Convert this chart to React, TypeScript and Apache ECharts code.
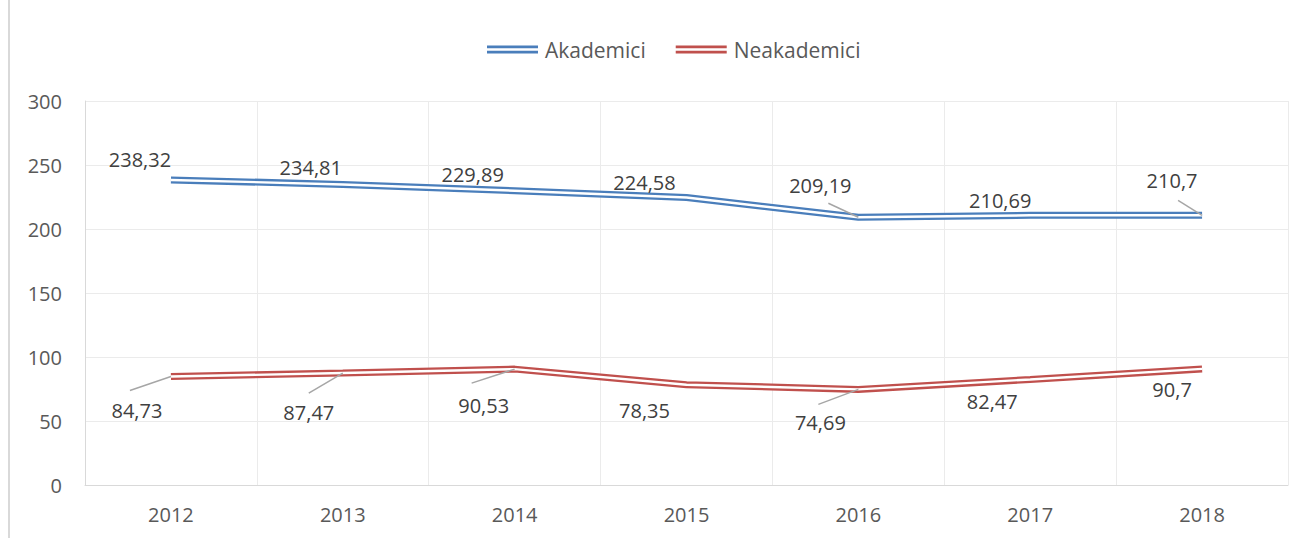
import React, { useEffect, useRef } from "react";
import * as echarts from "echarts";

const years = ["2012", "2013", "2014", "2015", "2016", "2017", "2018"];
const akademici = [238.32, 234.81, 229.89, 224.58, 209.19, 210.69, 210.7];
const neakademici = [84.73, 87.47, 90.53, 78.35, 74.69, 82.47, 90.7];

// label offsets (style) relative to each point
const akOffsets = [[-31, -20], [-32, -17], [-42, -16], [-42, -15], [-38, -32], [-30, -15], [-30, -35]];
const neOffsets = [[-34, 34], [-34, 39], [-31, 36], [-42, 26], [-38, 33], [-38, 22], [-30, 21]];
// leader line far-end offsets (style), null = no leader
const akLeaders: (number[] | null)[] = [null, null, null, null, [-30, -14], null, [-24, -15]];
const neLeaders: (number[] | null)[] = [[-41, 14], [-34, 20], [-43, 14], null, [-40, 15], null, null];

const fmt = (v: number) => String(v).replace(".", ",");
const FONT = "'Open Sans', sans-serif";

function mainSeries(name: string, values: number[], color: string, offsets: number[][]) {
  return {
    name,
    type: "line",
    data: values,
    symbol: "circle",
    symbolSize: 0,
    showSymbol: true,
    itemStyle: { color },
    lineStyle: { color, width: 7 },
    z: 2,
    label: {
      show: true,
      position: "inside",
      formatter: (p: any) => fmt(p.value),
      color: "#404040",
      fontSize: 20,
      fontFamily: FONT,
    },
    labelLayout: (p: any) => ({ dx: offsets[p.dataIndex][0], dy: offsets[p.dataIndex][1] }),
  };
}

function whiteSeries(name: string, values: number[]) {
  return {
    name,
    type: "line",
    data: values,
    symbol: "none",
    silent: true,
    lineStyle: { color: "#ffffff", width: 2.4 },
    itemStyle: { color: "#ffffff" },
    z: 3,
  };
}

export default function App() {
  const ref = useRef<HTMLDivElement>(null);
  useEffect(() => {
    const chart = echarts.init(ref.current!, null, { renderer: "svg" });
    const icon = "path://M0,0H50V2.6H0Z M0,5H50V7.6H0Z";
    chart.setOption({
      animation: false,
      backgroundColor: "#ffffff",
      legend: {
        data: [
          { name: "Akademici", icon, itemStyle: { color: "#4a7ebb", opacity: 1 } },
          { name: "Neakademici", icon, itemStyle: { color: "#c0504d", opacity: 1 } },
        ],
        top: 34,
        left: 482,
        itemWidth: 51,
        itemHeight: 8,
        itemGap: 30,
        textStyle: { color: "#595959", fontSize: 21, fontFamily: FONT, padding: [0, 0, 0, 2] },
      },
      grid: { left: 85, right: 20, top: 101, bottom: 53 },
      xAxis: {
        type: "category",
        data: years,
        boundaryGap: true,
        axisLine: { lineStyle: { color: "#d9d9d9" } },
        axisTick: { show: false },
        splitLine: { show: true, lineStyle: { color: "#ebebeb" } },
        axisLabel: { color: "#595959", fontSize: 20, fontFamily: FONT, margin: 19 },
      },
      yAxis: {
        type: "value",
        min: 0,
        max: 300,
        interval: 50,
        axisLine: { show: true, lineStyle: { color: "#d9d9d9" } },
        splitLine: { lineStyle: { color: "#ebebeb" } },
        axisLabel: { color: "#595959", fontSize: 20, fontFamily: FONT, margin: 23 },
      },
      series: [
        mainSeries("Akademici", akademici, "#4a7ebb", akOffsets),
        whiteSeries("Akademici-w", akademici),
        mainSeries("Neakademici", neakademici, "#c0504d", neOffsets),
        whiteSeries("Neakademici-w", neakademici),
      ],
    });

    const leaderLines: any[] = [];
    const addLeaders = (values: number[], leaders: (number[] | null)[]) => {
      values.forEach((v, i) => {
        const l = leaders[i];
        if (!l) return;
        const p = chart.convertToPixel({ xAxisIndex: 0, yAxisIndex: 0 }, [i, v]) as number[];
        leaderLines.push({
          type: "line",
          z: 10,
          shape: { x1: p[0], y1: p[1], x2: p[0] + l[0], y2: p[1] + l[1] },
          style: { stroke: "#a6a6a6", lineWidth: 1.5 },
        });
      });
    };
    addLeaders(akademici, akLeaders);
    addLeaders(neakademici, neLeaders);

    chart.setOption({
      graphic: [
        { type: "line", shape: { x1: 9, y1: 0, x2: 9, y2: 538 }, style: { stroke: "#d9d9d9", lineWidth: 2 } },
        ...leaderLines,
      ],
    });
    return () => chart.dispose();
  }, []);
  return (
    <div
      ref={ref}
      style={{ position: "fixed", left: 0, top: 0, width: 1308, height: 538 }}
    />
  );
}
